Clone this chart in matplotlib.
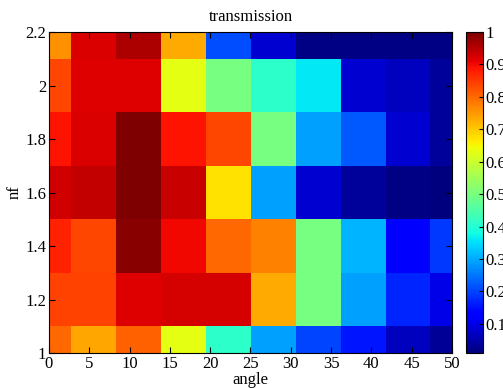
import numpy as np
import matplotlib
matplotlib.use('Agg')
from matplotlib import pyplot as plt

plt.rcParams['font.family'] = ['Liberation Serif', 'DejaVu Serif']

# angle samples (column centres) and nf samples (row centres)
angle = [0, 5.56, 11.11, 16.67, 22.22, 27.78, 33.33, 38.89, 44.44, 50]
nf = [1.0, 1.2, 1.4, 1.6, 1.8, 2.0, 2.2]

# transmission, one list per nf value (bottom to top)
t_10 = [0.80, 0.735, 0.81, 0.63, 0.41, 0.29, 0.20, 0.155, 0.066, 0.03]
t_12 = [0.84, 0.84, 0.916, 0.923, 0.923, 0.73, 0.50, 0.29, 0.17, 0.10]
t_14 = [0.876, 0.837, 0.99, 0.90, 0.80, 0.775, 0.50, 0.31, 0.12, 0.19]
t_16 = [0.93, 0.94, 1.00, 0.935, 0.675, 0.29, 0.081, 0.037, 0.015, 0.01]
t_18 = [0.89, 0.92, 1.00, 0.89, 0.837, 0.50, 0.29, 0.22, 0.081, 0.037]
t_20 = [0.837, 0.916, 0.916, 0.63, 0.50, 0.41, 0.36, 0.081, 0.066, 0.037]
t_22 = [0.76, 0.92, 0.96, 0.73, 0.21, 0.081, 0.015, 0.015, 0.015, 0.015]

cb_ticks = [0.1, 0.2, 0.3, 0.4, 0.5, 0.6, 0.7, 0.8, 0.9, 1]

data = np.array([t_10, t_12, t_14, t_16, t_18, t_20, t_22])

dx = (angle[1] - angle[0]) / 2
dy = (nf[1] - nf[0]) / 2

fig = plt.figure(figsize=(5.03, 3.88), dpi=100)
ax = fig.add_axes([0.0974, 0.0902, 0.8012, 0.8273])
cax = fig.add_axes([0.926, 0.0902, 0.034, 0.8273])

im = ax.imshow(data, cmap='jet', origin='lower', aspect='auto',
               interpolation='nearest', vmin=0.01, vmax=1,
               extent=(angle[0] - dx, angle[-1] + dx, nf[0] - dy, nf[-1] + dy))
ax.set_xlim(0, 50)
ax.set_ylim(1, 2.2)
ax.set_xticks(np.arange(0, 51, 5))
ax.set_yticks([1, 1.2, 1.4, 1.6, 1.8, 2, 2.2])
ax.set_yticklabels(['1', '1.2', '1.4', '1.6', '1.8', '2', '2.2'])
ax.tick_params(direction='in', top=True, right=True, labelsize=12,
               length=4, pad=2)
ax.set_xlabel('angle', fontsize=12, labelpad=0)
ax.set_ylabel('nf', fontsize=12, labelpad=2)
ax.set_title('transmission', fontsize=12, pad=8)

cb = fig.colorbar(im, cax=cax)
cb.set_ticks(cb_ticks)
cb.set_ticklabels(['0.1', '0.2', '0.3', '0.4', '0.5', '0.6', '0.7', '0.8',
                   '0.9', '1'])
cb.ax.tick_params(direction='in', labelsize=12, length=3, pad=2)
cb.outline.set_linewidth(0.8)

fig.savefig('out.png', dpi=100)
